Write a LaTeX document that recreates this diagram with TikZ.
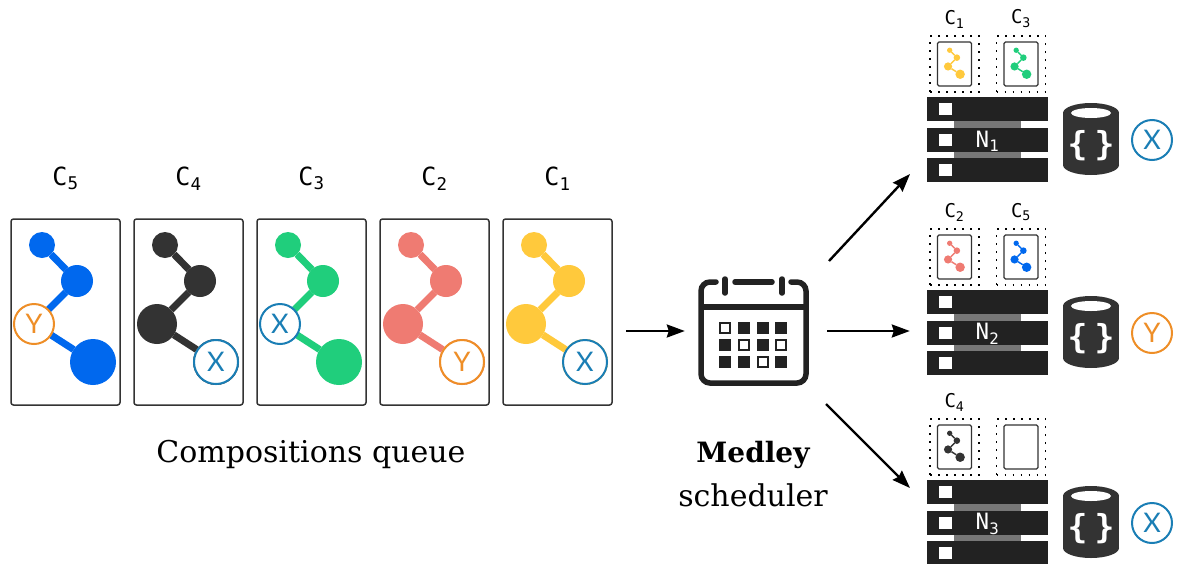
\documentclass[tikz,border=0pt]{standalone}
\usepackage{fontspec}
\setmainfont{DejaVu Serif}
\setmonofont{DejaVu Sans Mono}
\newfontfamily\markfont{Lato}
\newfontfamily\bracefont{DejaVu Sans Mono Bold}
\usetikzlibrary{arrows.meta,positioning}

\definecolor{molblue}{HTML}{0068EE}
\definecolor{molblack}{HTML}{333333}
\definecolor{molgreen}{HTML}{20CE7C}
\definecolor{molred}{HTML}{EF7B72}
\definecolor{molyellow}{HTML}{FFC93C}
\definecolor{markblue}{HTML}{1A7EB5}
\definecolor{markorange}{HTML}{EE8E27}
\definecolor{rackdark}{HTML}{222222}
\definecolor{rackgray}{HTML}{777777}

\tikzset{
    card/.style={draw=molblack, line width=1.5pt, rounded corners=2.5pt, fill=white, minimum width=109pt, minimum height=186pt, inner sep=0pt},
    smallcard/.style={draw=molblack, line width=1.2pt, rounded corners=1.5pt, fill=white, minimum width=34pt, minimum height=44pt, inner sep=0pt},
    slotbox/.style={draw=black, line width=1.6pt, dash pattern=on 1.6pt off 6.4pt, minimum width=49pt, minimum height=56pt, inner sep=0pt},
    atom/.style={circle, inner sep=0pt, outer sep=0pt},
    markerX/.style={circle, draw=markblue, fill=white, line width=2pt, text=markblue, inner sep=0pt, font=\markfont\fontsize{27}{27}\selectfont},
    markerY/.style={circle, draw=markorange, fill=white, line width=2pt, text=markorange, inner sep=0pt, font=\markfont\fontsize{27}{27}\selectfont},
    biglabel/.style={font=\ttfamily\fontsize{25}{25}\selectfont, inner sep=0pt},
    smalllabel/.style={font=\ttfamily\fontsize{19}{19}\selectfont, inner sep=0pt},
    flow/.style={-{Stealth[length=18pt,width=13pt,inset=2pt]}, line width=2.4pt},
    calline/.style={draw=rackdark, line width=5.5pt},
    calfull/.style={fill=rackdark},
    calopen/.style={draw=rackdark, line width=2pt, fill=white},
}

\newcommand{\molecule}[3]{
    \begin{scope}[shift={(#1.center)}, scale=#2]
        \node[atom, fill=#3, minimum size={26pt*#2}] (#1-a) at (-23.5,-67) {};
        \node[atom, fill=#3, minimum size={32pt*#2}] (#1-b) at (11.5,-31) {};
        \node[atom, fill=#3, minimum size={40pt*#2}] (#1-c) at (-31.5,12) {};
        \node[atom, fill=#3, minimum size={46pt*#2}] (#1-d) at (27.5,50) {};
        \draw[#3, line width={7pt*#2}] (#1-a) -- (#1-b);
        \draw[#3, line width={7pt*#2}] (#1-b) -- (#1-c);
        \draw[#3, line width={7pt*#2}] (#1-c) -- (#1-d);
    \end{scope}
}

\begin{document}
\begin{tikzpicture}[x=1pt, y=-1pt]
    \useasboundingbox (0,0) rectangle (1178,563);

    % queue
    \foreach \cname/\cx/\cidx/\ccol in {c5/65.5/5/molblue, c4/188.5/4/molblack, c3/311.5/3/molgreen, c2/434.5/2/molred, c1/557.5/1/molyellow} {
        \node[card] (\cname) at (\cx,312) {};
        \node[biglabel, above=28pt of \cname] (\cname-lab) {C\textsubscript{\cidx}};
        \molecule{\cname}{1}{\ccol}
    }
    \node[markerY, minimum size=40pt] at (c5-c) {Y};
    \node[markerX, minimum size=44pt] at (c4-d) {X};
    \node[markerX, minimum size=40pt] at (c3-c) {X};
    \node[markerY, minimum size=44pt] at (c2-d) {Y};
    \node[markerX, minimum size=44pt] at (c1-d) {X};
    \node[font=\fontsize{30}{30}\selectfont, inner sep=0pt] (qtext) at (311,454) {Compositions queue};

    % scheduler
    \node[minimum width=111pt, minimum height=107pt, inner sep=0pt] (sched) at (753.5,331) {};
    \draw[calline, line cap=round, rounded corners=9pt] (716,282) -- (701,282) -- (701,383) -- (806,383) -- (806,282) -- (791,282);
    \draw[calline, line cap=round] (735,282) -- (772,282);
    \draw[calline, line cap=round] (725,279) -- (725,293);
    \draw[calline, line cap=round] (782,279) -- (782,293);
    \draw[calline] (701,307) -- (806,307);
    \foreach \gx/\gy in {744/328, 763/328, 781/328, 725/345, 763/345, 725/362, 744/362, 781/362}
        \fill[calfull] (\gx-5.75,\gy-5.75) rectangle (\gx+5.75,\gy+5.75);
    \foreach \gx/\gy in {725/328, 744/345, 781/345, 763/362}
        \draw[calopen] (\gx-4.75,\gy-4.75) rectangle (\gx+4.75,\gy+4.75);
    \node[font=\bfseries\fontsize{28}{28}\selectfont, inner sep=0pt] (medley) at (753,455) {Medley};
    \node[font=\fontsize{30}{30}\selectfont, inner sep=0pt] (schedtext) at (753,495) {scheduler};

    % nodes
    \foreach \rname/\off/\rmark/\ridx in {n1/0/X/1, n2/193/Y/2, n3/383/X/3} {
        \begin{scope}[shift={(0,\off)}]
            \fill[white] (927,97) rectangle (1048,182);
            \fill[rackgray] (954,121) rectangle (1021,158);
            \node[fill=rackdark, minimum width=121pt, minimum height=24pt, inner sep=0pt] (\rname) at (987.5,140) {};
            \fill[rackdark] (927,97) rectangle (1048,121);
            \fill[rackdark] (927,158) rectangle (1048,182);
            \foreach \sy in {109,140,170}
                \fill[white] (939,\sy-6) rectangle (951.5,\sy+6);
            \node[biglabel, font=\ttfamily\fontsize{22.5}{22.5}\selectfont, text=white] at (987.5,141) {N\textsubscript{\ridx}};
            \fill[molblack] (1091,113) ellipse [x radius=28, y radius=10];
            \fill[molblack] (1063,113) rectangle (1119,165);
            \fill[molblack] (1091,165) ellipse [x radius=28, y radius=10];
            \fill[white] (1091,113) ellipse [x radius=20, y radius=5];
            \node[text=white, font=\bracefont\fontsize{33}{33}\selectfont, inner sep=0pt] at (1091,146) {\{\kern7pt\}};
            \node[marker\rmark, minimum size=40pt] (\rname-mark) at (1152,140) {\rmark};
            \node[slotbox] (\rname-l) at (954.5,64) {};
            \node[slotbox] (\rname-r) at (1021,64) {};
            \node[smallcard] (\rname-lc) at (\rname-l) {};
            \node[smallcard] (\rname-rc) at (\rname-r) {};
        \end{scope}
    }
    \molecule{n1-lc}{0.205}{molyellow}
    \molecule{n1-rc}{0.205}{molgreen}
    \molecule{n2-lc}{0.205}{molred}
    \molecule{n2-rc}{0.205}{molblue}
    \molecule{n3-lc}{0.205}{molblack}
    \node[smalllabel, above=7pt of n1-l] {C\textsubscript{1}};
    \node[smalllabel, above=7pt of n1-r] {C\textsubscript{3}};
    \node[smalllabel, above=7pt of n2-l] {C\textsubscript{2}};
    \node[smalllabel, above=7pt of n2-r] {C\textsubscript{5}};
    \node[smalllabel, above=7pt of n3-l] {C\textsubscript{4}};

    % arrows
    \coordinate (qout) at (626,331);
    \coordinate (upfrom) at (829,261);
    \coordinate (upto) at (910,174);
    \coordinate (downfrom) at (826,404);
    \coordinate (downto) at (910,488);
    \draw[flow, shorten >=13pt] (qout) -- (sched.west);
    \draw[flow, shorten <=18pt, shorten >=17pt] (sched.east) -- (sched.east -| n2.west);
    \draw[flow] (upfrom) -- (upto);
    \draw[flow] (downfrom) -- (downto);
\end{tikzpicture}
\end{document}
